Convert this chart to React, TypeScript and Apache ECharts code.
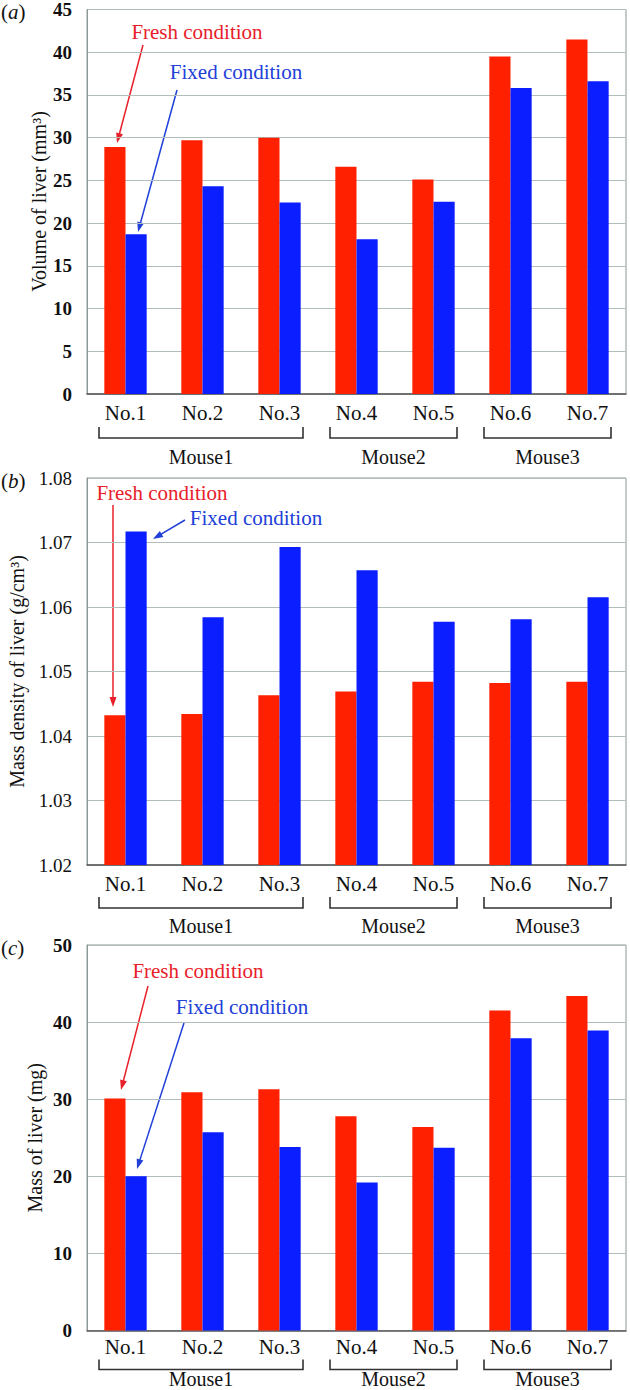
import React, { useEffect, useRef } from "react";
import * as echarts from "echarts";

const categories = ["No.1", "No.2", "No.3", "No.4", "No.5", "No.6", "No.7"];
const volumeFresh = [28.9, 29.7, 30.0, 26.6, 25.1, 39.5, 41.5];
const volumeFixed = [18.7, 24.3, 22.4, 18.1, 22.5, 35.8, 36.6];
const densityFresh = [1.0432, 1.0434, 1.0463, 1.0469, 1.0484, 1.0482, 1.0484];
const densityFixed = [1.0717, 1.0584, 1.0693, 1.0657, 1.0577, 1.0581, 1.0615];
const massFresh = [30.1, 30.9, 31.3, 27.8, 26.4, 41.5, 43.4];
const massFixed = [20.0, 25.7, 23.8, 19.2, 23.7, 37.9, 38.9];
const mouseGroups = [
  { name: "Mouse1", from: 0, to: 2 },
  { name: "Mouse2", from: 3, to: 4 },
  { name: "Mouse3", from: 5, to: 6 },
];
const panelLabels = ["a", "b", "c"];
const yTitles = [
  "Volume of liver (mm\u00b3)",
  "Mass density of liver (g/cm\u00b3)",
  "Mass of liver (mg)",
];

const RED = "#ff2000";
const BLUE = "#0a1eff";
const SERIF = "Liberation Serif";

const GRID_LEFT = 87;
const GRID_W = 539;
const grids = [
  { top: 9, height: 385 },
  { top: 478, height: 387 },
  { top: 945, height: 385.5 },
];
const yAxesCfg = [
  { min: 0, max: 45, interval: 5, dec: 0, bold: true },
  { min: 1.02, max: 1.08, interval: 0.01, dec: 2, bold: false },
  { min: 0, max: 50, interval: 10, dec: 0, bold: true },
];
const titleX = [39, 17, 35];
const bracketOffsets = [
  { top: 33, line: 44, label: 63 },
  { top: 32, line: 43, label: 61 },
  { top: 29, line: 39, label: 48 },
];

function arrow(x1: number, y1: number, x2: number, y2: number, color: string) {
  const dx = x2 - x1;
  const dy = y2 - y1;
  const len = Math.sqrt(dx * dx + dy * dy);
  const ux = dx / len;
  const uy = dy / len;
  const hl = 10;
  const hw = 3.5;
  const bx = x2 - ux * hl;
  const by = y2 - uy * hl;
  return [
    {
      type: "line",
      shape: { x1, y1, x2: bx + ux * 2, y2: by + uy * 2 },
      style: { stroke: color, lineWidth: 1.5 },
      silent: true,
    },
    {
      type: "polygon",
      shape: {
        points: [
          [x2, y2],
          [bx - uy * hw, by + ux * hw],
          [bx + uy * hw, by - ux * hw],
        ],
      },
      style: { fill: color },
      silent: true,
    },
  ];
}

function annText(text: string, x: number, y: number, color: string) {
  return {
    type: "text",
    x,
    y,
    style: {
      text,
      fill: color,
      fontFamily: SERIF,
      fontSize: 21,
      textAlign: "center",
      textVerticalAlign: "middle",
    },
    silent: true,
  };
}

export default function App() {
  const ref = useRef<HTMLDivElement>(null);
  useEffect(() => {
    if (!ref.current) return;
    const chart = echarts.init(ref.current, undefined, { renderer: "svg" });
    const catW = GRID_W / categories.length;
    const seriesData = [
      [volumeFresh, volumeFixed],
      [densityFresh, densityFixed],
      [massFresh, massFixed],
    ];

    const graphics: any[] = [];
    grids.forEach((g, i) => {
      const axisY = g.top + g.height;
      const off = bracketOffsets[i];
      graphics.push({
        type: "text",
        x: 1,
        y: g.top + 3,
        style: {
          text: `{n|(}{i|${panelLabels[i]}}{n|)}`,
          textVerticalAlign: "middle",
          rich: {
            n: { fontFamily: SERIF, fontSize: 21, fill: "#111" },
            i: { fontFamily: SERIF, fontSize: 21, fontStyle: "italic", fill: "#111" },
          },
        },
        silent: true,
      });
      graphics.push({
        type: "text",
        x: titleX[i],
        y: g.top + g.height / 2,
        rotation: Math.PI / 2,
        style: {
          text: yTitles[i],
          fontFamily: SERIF,
          fontSize: 20,
          fill: "#111",
          textAlign: "center",
          textVerticalAlign: "middle",
        },
        silent: true,
      });
      mouseGroups.forEach((m) => {
        const xl = GRID_LEFT + m.from * catW + 12;
        const xr = GRID_LEFT + (m.to + 1) * catW - 15;
        graphics.push({
          type: "polyline",
          shape: {
            points: [
              [xl, axisY + off.top],
              [xl, axisY + off.line],
              [xr, axisY + off.line],
              [xr, axisY + off.top],
            ],
          },
          style: { stroke: "#333", lineWidth: 1.6, fill: null },
          silent: true,
        });
        graphics.push({
          type: "text",
          x: (xl + xr) / 2,
          y: axisY + off.label,
          style: {
            text: m.name,
            fontFamily: SERIF,
            fontSize: 20,
            fill: "#111",
            textAlign: "center",
            textVerticalAlign: "middle",
          },
          silent: true,
        });
      });
    });

    graphics.push(annText("Fresh condition", 197, 32, "#e8202a"));
    graphics.push(...arrow(143, 45, 117, 143, "#e8202a"));
    graphics.push(annText("Fixed condition", 236, 72, "#2040d8"));
    graphics.push(...arrow(177, 90, 138, 232, "#2040d8"));
    graphics.push(annText("Fresh condition", 162, 493, "#e8202a"));
    graphics.push(...arrow(113, 505, 113, 707, "#e8202a"));
    graphics.push(annText("Fixed condition", 256, 518, "#2040d8"));
    graphics.push(...arrow(185, 520, 153, 539, "#2040d8"));
    graphics.push(annText("Fresh condition", 198, 971, "#e8202a"));
    graphics.push(...arrow(148, 986, 121, 1090, "#e8202a"));
    graphics.push(annText("Fixed condition", 242, 1007, "#2040d8"));
    graphics.push(...arrow(184, 1023, 137, 1169, "#2040d8"));

    const option: any = {
      animation: false,
      backgroundColor: "#fff",
      textStyle: { fontFamily: SERIF },
      grid: grids.map((g) => ({
        left: GRID_LEFT,
        top: g.top,
        width: GRID_W,
        height: g.height,
        show: true,
        borderColor: "#8c9999",
        borderWidth: 1,
        containLabel: false,
      })),
      xAxis: grids.map((_, i) => ({
        type: "category",
        gridIndex: i,
        data: categories,
        axisTick: { show: false },
        axisLine: { show: true, lineStyle: { color: "#555", width: 1.5 } },
        axisLabel: {
          interval: 0,
          margin: i === 2 ? 6 : 8,
          fontFamily: SERIF,
          fontSize: 21,
          color: "#111",
        },
      })),
      yAxis: yAxesCfg.map((c, i) => ({
        type: "value",
        gridIndex: i,
        min: c.min,
        max: c.max,
        interval: c.interval,
        axisLine: { show: true, lineStyle: { color: "#8c9999" } },
        axisTick: { show: false },
        splitLine: { show: true, lineStyle: { color: "#b2bebe", width: 1 } },
        axisLabel: {
          margin: 15,
          fontFamily: SERIF,
          fontSize: 19,
          fontWeight: c.bold ? "bold" : "normal",
          color: "#111",
          formatter: (v: number) => v.toFixed(c.dec),
        },
      })),
      series: seriesData.flatMap((pair, i) => [
        {
          type: "bar",
          name: "Fresh condition",
          xAxisIndex: i,
          yAxisIndex: i,
          data: pair[0],
          barGap: "0%",
          barCategoryGap: "45%",
          itemStyle: { color: RED },
        },
        {
          type: "bar",
          name: "Fixed condition",
          xAxisIndex: i,
          yAxisIndex: i,
          data: pair[1],
          barGap: "0%",
          barCategoryGap: "45%",
          itemStyle: { color: BLUE },
        },
      ]),
      graphic: graphics,
    };
    chart.setOption(option);
    return () => chart.dispose();
  }, []);
  return (
    <div
      ref={ref}
      style={{ position: "absolute", left: 0, top: 0, width: 630, height: 1390 }}
    />
  );
}
